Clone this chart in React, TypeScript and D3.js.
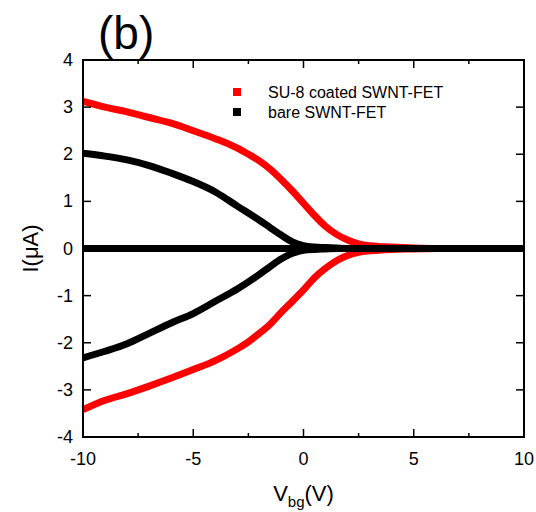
import { useEffect, useRef } from 'react'
import * as d3 from 'd3'

// SU-8 coated device (red), forward / reverse branches
const redUpperX = [-10, -9, -8, -7, -6, -5, -4, -3, -2.5, -2, -1.5, -1, -0.5, 0, 0.5, 1, 1.5, 2, 2.5, 3, 4, 5, 6, 10]
const redUpperY = [3.12, 3.0, 2.9, 2.78, 2.66, 2.5, 2.33, 2.13, 2.0, 1.86, 1.68, 1.46, 1.22, 0.96, 0.7, 0.47, 0.3, 0.18, 0.1, 0.06, 0.03, 0.01, 0, 0]
const redLowerX = [-10, -9, -8, -7, -6, -5, -4, -3, -2.5, -2, -1.5, -1, -0.5, 0, 0.5, 1, 1.5, 2, 2.5, 3, 4, 5, 6, 10]
const redLowerY = [-3.42, -3.22, -3.08, -2.92, -2.75, -2.57, -2.38, -2.13, -1.98, -1.8, -1.6, -1.35, -1.12, -0.88, -0.62, -0.42, -0.26, -0.15, -0.08, -0.05, -0.02, -0.01, 0, 0]

// bare device (black)
const blackUpperX = [-10, -9, -8, -7, -6, -5, -4, -3, -2, -1.5, -1, -0.5, 0, 0.5, 1, 1.5, 2, 3, 10]
const blackUpperY = [2.02, 1.96, 1.88, 1.76, 1.6, 1.42, 1.2, 0.9, 0.6, 0.44, 0.28, 0.14, 0.06, 0.03, 0.02, 0.01, 0, 0, 0]
const blackLowerX = [-10, -9, -8, -7, -6, -5, -4, -3, -2, -1.5, -1, -0.5, 0, 0.5, 1, 1.5, 2, 3, 10]
const blackLowerY = [-2.32, -2.18, -2.02, -1.8, -1.58, -1.38, -1.12, -0.86, -0.55, -0.38, -0.22, -0.1, -0.04, -0.02, -0.01, 0, 0, 0, 0]

const zeroX = [-10, 10]
const zeroY = [0, 0]

const xMajor = [-10, -5, 0, 5, 10]
const xMinor = [-7.5, -2.5, 2.5, 7.5]
const yMajor = [-4, -3, -2, -1, 0, 1, 2, 3, 4]

const legendLabels = ['SU-8 coated SWNT-FET', 'bare SWNT-FET']
const legendColors = ['#ff0000', '#000000']

const W = 536
const H = 512
const margin = { top: 60, right: 12, bottom: 75, left: 83 }

function App() {
  const svgRef = useRef(null)

  useEffect(() => {
    const svg = d3.select(svgRef.current)
    svg.selectAll('*').remove()

    const innerW = W - margin.left - margin.right
    const innerH = H - margin.top - margin.bottom

    const x = d3.scaleLinear().domain([-10, 10]).range([0, innerW])
    const y = d3.scaleLinear().domain([-4, 4]).range([innerH, 0])

    const font = 'Liberation Sans, Arial, sans-serif'

    const g = svg.append('g').attr('transform', `translate(${margin.left},${margin.top})`)

    const line = d3.line<[number, number]>()
      .x(d => x(d[0]))
      .y(d => y(d[1]))
      .curve(d3.curveMonotoneX)

    const zip = (xs: number[], ys: number[]) => xs.map((v, i) => [v, ys[i]] as [number, number])

    const series = [
      { xs: redUpperX, ys: redUpperY, c: '#ff0000' },
      { xs: redLowerX, ys: redLowerY, c: '#ff0000' },
      { xs: blackUpperX, ys: blackUpperY, c: '#000000' },
      { xs: blackLowerX, ys: blackLowerY, c: '#000000' },
      { xs: zeroX, ys: zeroY, c: '#000000' }
    ]

    series.forEach(s => {
      g.append('path')
        .attr('d', line(zip(s.xs, s.ys)))
        .attr('fill', 'none')
        .attr('stroke', s.c)
        .attr('stroke-width', 7)
        .attr('stroke-linejoin', 'round')
    })

    // frame
    g.append('rect')
      .attr('width', innerW)
      .attr('height', innerH)
      .attr('fill', 'none')
      .attr('stroke', '#000')
      .attr('stroke-width', 2)

    // ticks (inward, mirrored)
    const tick = (x1: number, y1: number, x2: number, y2: number) =>
      g.append('line').attr('x1', x1).attr('y1', y1).attr('x2', x2).attr('y2', y2)
        .attr('stroke', '#000').attr('stroke-width', 1.5)

    xMajor.forEach(v => {
      tick(x(v), innerH, x(v), innerH - 8)
      tick(x(v), 0, x(v), 8)
    })
    xMinor.forEach(v => {
      tick(x(v), innerH, x(v), innerH - 4)
      tick(x(v), 0, x(v), 4)
    })
    yMajor.forEach(v => {
      tick(0, y(v), 8, y(v))
      tick(innerW, y(v), innerW - 8, y(v))
    })

    // tick labels
    g.selectAll('.xl')
      .data(xMajor)
      .enter()
      .append('text')
      .attr('x', d => x(d))
      .attr('y', innerH + 28)
      .attr('text-anchor', 'middle')
      .attr('font-family', font)
      .attr('font-size', 18)
      .text(d => d)

    g.selectAll('.yl')
      .data(yMajor)
      .enter()
      .append('text')
      .attr('x', -10)
      .attr('y', d => y(d) + 6)
      .attr('text-anchor', 'end')
      .attr('font-family', font)
      .attr('font-size', 18)
      .text(d => d)

    // axis titles
    const xt = g.append('text')
      .attr('x', innerW / 2)
      .attr('y', innerH + 64)
      .attr('text-anchor', 'middle')
      .attr('font-family', font)
      .attr('font-size', 22)
    xt.append('tspan').text('V')
    xt.append('tspan').attr('font-size', 15).attr('dy', 6).text('bg')
    xt.append('tspan').attr('dy', -6).text('(V)')

    g.append('text')
      .attr('transform', `translate(-45,${innerH / 2}) rotate(-90)`)
      .attr('text-anchor', 'middle')
      .attr('font-family', font)
      .attr('font-size', 22)
      .text('I(μA)')

    // panel label
    svg.append('text')
      .attr('x', 98)
      .attr('y', 49)
      .attr('font-family', font)
      .attr('font-size', 46)
      .text('(b)')

    // legend
    legendLabels.forEach((lab, i) => {
      svg.append('rect')
        .attr('x', 233)
        .attr('y', 88 + i * 20)
        .attr('width', 8)
        .attr('height', 8)
        .attr('fill', legendColors[i])
      svg.append('text')
        .attr('x', 268)
        .attr('y', 98 + i * 20)
        .attr('font-family', font)
        .attr('font-size', 16)
        .text(lab)
    })
  }, [])

  return (
    <svg ref={svgRef} width={W} height={H} style={{ position: 'absolute', left: 0, top: 0, background: '#fff' }}></svg>
  )
}

export default App
